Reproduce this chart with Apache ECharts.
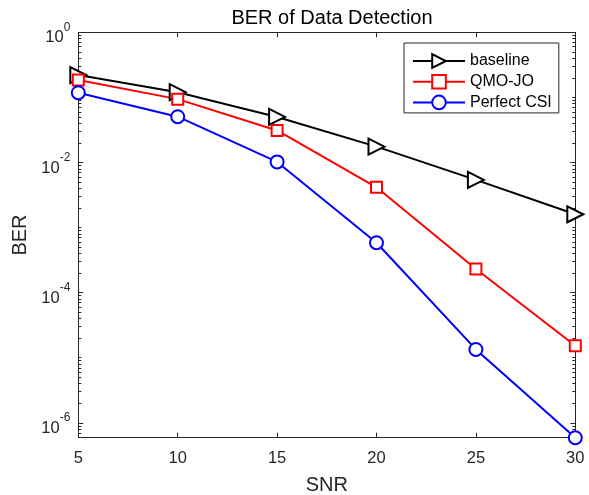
<!DOCTYPE html>
<html><head><meta charset="utf-8">
<script src="https://cdn.jsdelivr.net/npm/echarts@6/dist/echarts.min.js"></script>
<style>html,body{margin:0;padding:0;background:#fff}#c{width:589px;height:495px}</style>
</head><body><div id="c"></div>
<script>
// ---- data ----
const snr = [5, 10, 15, 20, 25, 30];
const baseline = [0.22, 0.12, 0.05, 0.0175, 0.0054, 0.0016];
const qmoJo = [0.185, 0.094, 0.031, 0.00415, 0.00023, 0.0000153];
const perfectCSI = [0.118, 0.0505, 0.0102, 0.000585, 0.0000134, 0.00000059];
const seriesNames = ['baseline', 'QMO-JO', 'Perfect CSI'];
const xTicks = [5, 10, 15, 20, 25, 30];
const yLabelExps = [-6, -4, -2, 0];

// ---- build ----
const FONT = '"Liberation Sans", Arial, Helvetica, sans-serif';
const AX = '#262626';
const yMin = Math.log10(Math.min(...perfectCSI));
const yMax = 0;
const minorTicks = [];
for (let d = -7; d <= 0; d++) {
  for (let k = 1; k <= 9; k++) {
    const v = d + Math.log10(k);
    if (v >= yMin - 1e-9 && v <= yMax + 1e-9 && !yLabelExps.includes(v)) minorTicks.push(v);
  }
}
const toPts = arr => snr.map((x, i) => [x, Math.log10(arr[i])]);

function xAx(pos, showLabel) {
  return {
    type: 'value', position: pos, min: xTicks[0], max: xTicks[xTicks.length - 1], interval: 5,
    axisLine: {show: true, onZero: false, lineStyle: {color: AX, width: 1}},
    axisTick: {show: true, inside: true, length: 5, lineStyle: {color: AX}},
    axisLabel: {show: showLabel, color: AX, fontSize: 16.5, fontFamily: FONT, margin: 12},
    splitLine: {show: false},
    name: showLabel ? 'SNR' : '', nameLocation: 'middle', nameGap: 38,
    nameTextStyle: {color: AX, fontSize: 20, fontFamily: FONT}
  };
}
function yAx(pos, major, withLabel) {
  return {
    type: 'value', position: pos, min: yMin, max: yMax,
    axisLine: {show: major, onZero: false, lineStyle: {color: AX, width: 1}},
    axisTick: {show: true, inside: true, length: major ? 5 : 3,
      customValues: major ? yLabelExps : minorTicks, lineStyle: {color: AX}},
    axisLabel: {show: withLabel, customValues: yLabelExps, margin: 8, padding: [3, 0, 0, 0],
      formatter: v => '{b|10}{s|' + Math.round(v) + '}',
      rich: {
        b: {fontSize: 16.5, fontFamily: FONT, color: AX, verticalAlign: 'bottom', lineHeight: 25},
        s: {fontSize: 12, fontFamily: FONT, color: AX, verticalAlign: 'top', lineHeight: 12}
      }},
    splitLine: {show: false},
    name: withLabel ? 'BER' : '', nameLocation: 'middle', nameGap: 48,
    nameTextStyle: {color: AX, fontSize: 20, fontFamily: FONT}
  };
}

const colors = ['#000000', '#ff0000', '#0000ff'];
const symbols = ['triangle', 'rect', 'circle'];
const sizes = [16, 11, 13];
const rotates = [-90, 0, 0];
const dataSets = [baseline, qmoJo, perfectCSI];

const option = {
  animation: false,
  backgroundColor: '#ffffff',
  title: {
    text: 'BER of Data Detection', left: 327, top: 3, textAlign: 'center',
    textStyle: {color: '#000', fontSize: 20, fontWeight: 'normal', fontFamily: FONT}
  },
  grid: {left: 78.3, right: 13.7, top: 32.3, bottom: 57.3, containLabel: false, outerBoundsMode: 'none'},
  xAxis: [xAx('bottom', true), xAx('top', false)],
  yAxis: [yAx('left', true, true), yAx('left', false, false), yAx('right', true, false), yAx('right', false, false)],
  legend: {
    data: seriesNames, orient: 'vertical', left: 404, top: 43,
    itemWidth: 52, itemHeight: 17, itemGap: 4.7,
    padding: [10, 7, 2.5, 8],
    borderColor: AX, borderWidth: 1, backgroundColor: '#fff',
    textStyle: {color: '#000', fontSize: 16, fontFamily: FONT}
  },
  series: dataSets.map((arr, i) => ({
    name: seriesNames[i], type: 'line', xAxisIndex: 0, yAxisIndex: 0,
    data: toPts(arr), clip: false,
    symbol: symbols[i], symbolSize: sizes[i], symbolRotate: rotates[i],
    showAllSymbol: true,
    lineStyle: {color: colors[i], width: 2},
    itemStyle: {color: '#ffffff', borderColor: colors[i], borderWidth: 2},
    emphasis: {disabled: true}
  }))
};
const chart = echarts.init(document.getElementById('c'), null, {renderer: 'canvas'});
chart.setOption(option);
</script></body></html>
